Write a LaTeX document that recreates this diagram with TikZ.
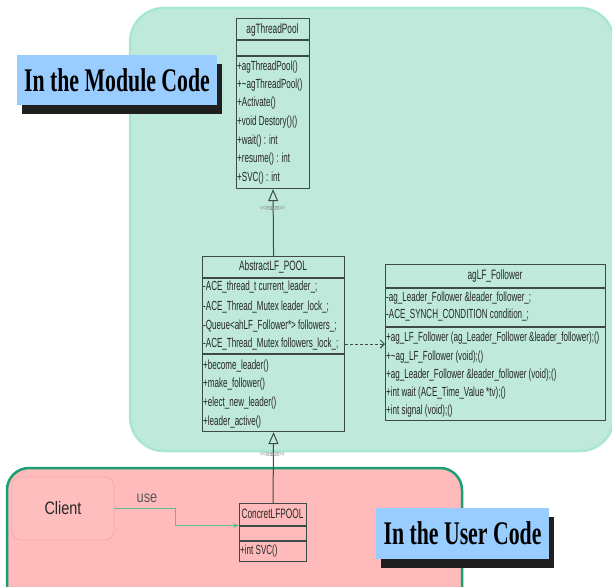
\documentclass[tikz,border=0pt]{standalone}
\usepackage{fontspec}
\usetikzlibrary{arrows.meta,shadows}
\newfontfamily\umlfont[FakeStretch=0.61]{Liberation Sans}
\newfontfamily\clientfont[FakeStretch=0.8]{Liberation Sans}
\newfontfamily\bannerfont[FakeStretch=0.66]{Liberation Serif}
\definecolor{modfill}{HTML}{BEE9DB}
\definecolor{modedge}{HTML}{A8E8D2}
\definecolor{userfill}{HTML}{FFBBBB}
\definecolor{useredge}{HTML}{1C9E74}
\definecolor{clientfill}{HTML}{FFBEBE}
\definecolor{clientedge}{HTML}{F2ABAB}
\definecolor{umlline}{HTML}{3E4A45}
\definecolor{umltext}{HTML}{262626}
\definecolor{usegreen}{HTML}{5CBF8C}
\definecolor{bannerblue}{HTML}{99CCFF}
\tikzset{
  classbox/.style={draw=umlline, line width=1.1pt, anchor=north west, inner sep=0pt},
  sepline/.style={draw=umlline, line width=1.1pt},
  member/.style={anchor=west, inner sep=0pt, text=umltext,
                 font=\umlfont\fontsize{13.2}{14}\selectfont},
  classtitle/.style={inner sep=0pt, text=umltext,
                 font=\umlfont\fontsize{13.6}{14}\selectfont},
  stereo/.style={inner sep=0pt, text=black!50, font=\umlfont\fontsize{7.5}{8}\selectfont},
  realizes/.style={draw=umlline, line width=1pt, -{Triangle[open, width=10pt, length=12pt]}},
  banner/.style={fill=bannerblue, inner sep=0pt, text=black,
                 font=\bannerfont\bfseries\fontsize{33}{34}\selectfont,
                 drop shadow={shadow xshift=5pt, shadow yshift=-8.5pt, fill=black!88, opacity=1}},
}
\begin{document}
\begin{tikzpicture}[x=1pt,y=-1pt]
\useasboundingbox (0,0) rectangle (612,586);

% module area and user area
\draw[fill=modfill, draw=modedge, line width=2.5pt, rounded corners=34pt] (130,8) rectangle (614,451);
\draw[fill=userfill, draw=useredge, line width=2.5pt, rounded corners=22pt] (7,468) rectangle (462,610);

% agThreadPool
\node[classbox, minimum width=73pt, minimum height=170pt] (pool) at (236,18) {};
\draw[sepline] (236,40) -- (309,40);
\draw[sepline] (236,56) -- (309,56);
\node[classtitle] at (272.5,30) {agThreadPool};
\node[member] at (237,67) {+agThreadPool()};
\node[member] at (237,85) {+\textasciitilde agThreadPool()};
\node[member] at (237,103) {+Activate()};
\node[member] at (237,122) {+void Destory()()};
\node[member] at (237,141) {+wait() : int};
\node[member] at (237,159) {+resume() : int};
\node[member] at (237,178) {+SVC() : int};

% AbstractLF_POOL
\node[classbox, minimum width=142pt, minimum height=175pt] (abs) at (202,256) {};
\draw[sepline] (202,278) -- (344,278);
\draw[sepline] (202,354) -- (344,354);
\node[classtitle] at (273,267) {AbstractLF\_POOL};
\node[member] at (203,287) {-ACE\_thread\_t current\_leader\_;};
\node[member] at (203,307) {-ACE\_Thread\_Mutex leader\_lock\_;};
\node[member] at (203,326) {-Queue<ahLF\_Follower*> followers\_;};
\node[member] at (203,344) {-ACE\_Thread\_Mutex followers\_lock\_;};
\node[member] at (203,366) {+become\_leader()};
\node[member] at (203,384) {+make\_follower()};
\node[member] at (203,403) {+elect\_new\_leader()};
\node[member] at (203,422) {+leader\_active()};

% agLF_Follower
\node[classbox, minimum width=220pt, minimum height=156pt] (follower) at (385,264) {};
\draw[sepline] (385,288) -- (605,288);
\draw[sepline] (385,327) -- (605,327);
\node[classtitle] at (495,276) {agLF\_Follower};
\node[member] at (386,298) {-ag\_Leader\_Follower \&leader\_follower\_;};
\node[member] at (386,315) {-ACE\_SYNCH\_CONDITION condition\_;};
\node[member] at (386,338) {+ag\_LF\_Follower (ag\_Leader\_Follower \&leader\_follower);()};
\node[member] at (386,357) {+\textasciitilde ag\_LF\_Follower (void);()};
\node[member] at (386,375) {+ag\_Leader\_Follower \&leader\_follower (void);()};
\node[member] at (386,393) {+int wait (ACE\_Time\_Value *tv);()};
\node[member] at (386,411) {+int signal (void);()};

% ConcretLFPOOL
\node[classbox, minimum width=67pt, minimum height=58pt] (concret) at (239,503) {};
\draw[sepline] (239,526) -- (306,526);
\draw[sepline] (239,541) -- (306,541);
\node[classtitle] at (272.5,514) {ConcretLFPOOL};
\node[member] at (240,551) {+int SVC()};

% Client
\node[draw=clientedge, fill=clientfill, line width=0.8pt, rounded corners=9pt,
      minimum width=102pt, minimum height=63pt, inner sep=0pt,
      font=\clientfont\fontsize{18}{19}\selectfont, text=black!85] (client) at (63,508.5) {Client};

% connectors
\draw[realizes] (abs.north) -- (pool.south);
\node[stereo] (st1) at (272.5,208) {<<realize>>};
\draw[realizes] (concret.north) -- (abs.south);
\node[stereo] (st2) at (272.5,454) {<<realize>>};
\draw[draw=umlline, line width=1pt, dash pattern=on 3pt off 2pt,
      -{Straight Barb[length=4pt, width=8pt]}] (abs.east) -- (abs.east -| follower.west);
\draw[draw=usegreen, line width=1.3pt, -{Stealth[length=6pt, width=5pt]}]
      (client.east) -- ++(61,0) |- ([yshift=7pt]concret.west);
\node[inner sep=0pt, text=black!65, font=\clientfont\fontsize{16}{16}\selectfont] (uselbl) at (147,498) {use};

% banners
\node[banner, minimum width=200pt, minimum height=50pt] (modbanner) at (117,80) {In the Module Code};
\node[banner, minimum width=173pt, minimum height=51pt] (userbanner) at (462.5,533.5) {In the User Code};
\end{tikzpicture}
\end{document}
